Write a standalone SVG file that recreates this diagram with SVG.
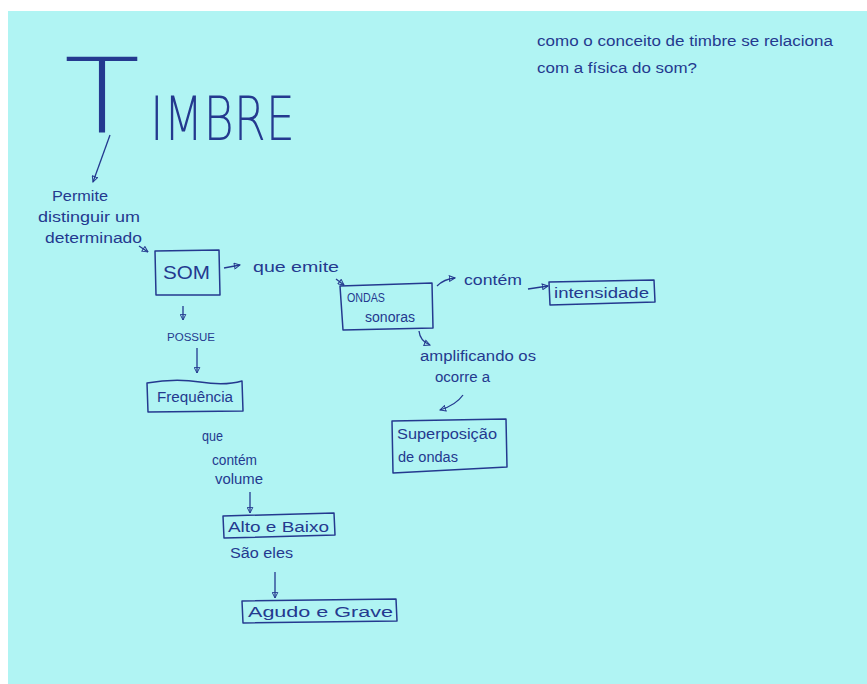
<svg xmlns="http://www.w3.org/2000/svg" width="867" height="684" viewBox="0 0 867 684">
<style>
.ink{fill:#24398f;font-family:"Liberation Sans","DejaVu Sans",sans-serif}
.t{font-size:14px}
.big{font-family:"DejaVu Sans","Liberation Sans",sans-serif;font-weight:200}
.box{fill:none;stroke:#24398f;stroke-width:1.5;stroke-linejoin:round}
.edge{fill:none;stroke:#24398f;stroke-width:1.3}
</style>
<defs>
<marker id="ah" viewBox="0 0 10 10" refX="9" refY="5" markerWidth="7" markerHeight="7" orient="auto" markerUnits="userSpaceOnUse">
<path d="M1,1 L9,5 L1,9 Z" fill="none" stroke="#24398f" stroke-width="1.4"/>
</marker>
</defs>
<rect x="0" y="0" width="867" height="684" fill="#ffffff"/>
<rect x="8" y="11" width="859" height="673" fill="#b0f4f3"/>

<g id="question">
<text class="ink t" x="537" y="46" textLength="296" lengthAdjust="spacingAndGlyphs">como o conceito de timbre se relaciona</text>
<text class="ink t" x="537" y="73" textLength="160" lengthAdjust="spacingAndGlyphs">com a física do som?</text>
</g>

<g id="timbre">
<text class="ink big" x="64" y="132" style="font-size:104px"><tspan textLength="76" lengthAdjust="spacingAndGlyphs">T</tspan><tspan x="150" y="140" style="font-size:60px" textLength="145" lengthAdjust="spacingAndGlyphs">IMBRE</tspan></text>
</g>

<g id="intro">
<text class="ink t" x="52" y="201" textLength="56" lengthAdjust="spacingAndGlyphs">Permite</text>
<text class="ink t" x="38" y="222" textLength="102" lengthAdjust="spacingAndGlyphs">distinguir um</text>
<text class="ink t" x="45" y="243" textLength="97" lengthAdjust="spacingAndGlyphs">determinado</text>
</g>

<g id="som">
<path class="box" d="M155,251 L219,250 L220,295 L156,295 Z"/>
<text class="ink" x="163" y="279" style="font-size:18px" textLength="47" lengthAdjust="spacingAndGlyphs">SOM</text>
</g>

<g id="label-que-emite">
<text class="ink t" x="253" y="272" textLength="86" lengthAdjust="spacingAndGlyphs">que emite</text>
</g>

<g id="ondas">
<path class="box" d="M340,286 L432,283 L433,328 L343,330 Z"/>
<text class="ink" x="347" y="302" style="font-size:12px" textLength="38" lengthAdjust="spacingAndGlyphs">ONDAS</text>
<text class="ink t" x="365" y="322" textLength="50" lengthAdjust="spacingAndGlyphs">sonoras</text>
</g>

<g id="label-contem">
<text class="ink t" x="464" y="285" textLength="58" lengthAdjust="spacingAndGlyphs">contém</text>
</g>

<g id="intensidade">
<path class="box" d="M549,282 L654,280 L655,302 L550,305 Z"/>
<text class="ink t" x="554" y="298" textLength="95" lengthAdjust="spacingAndGlyphs">intensidade</text>
</g>

<g id="label-possue">
<text class="ink" x="167" y="341" style="font-size:10px" textLength="48" lengthAdjust="spacingAndGlyphs">POSSUE</text>
</g>

<g id="frequencia">
<path class="box" d="M147,383 Q175,378 200,382 Q225,386 242,381 L243,411 L148,412 Z"/>
<text class="ink t" x="157" y="402" textLength="76" lengthAdjust="spacingAndGlyphs">Frequência</text>
</g>

<g id="label-amplificando">
<text class="ink t" x="420" y="361" textLength="116" lengthAdjust="spacingAndGlyphs">amplificando os</text>
<text class="ink t" x="435" y="382" textLength="55" lengthAdjust="spacingAndGlyphs">ocorre a</text>
</g>

<g id="superposicao">
<path class="box" d="M392,421 L506,419 L507,467 L393,473 Z"/>
<text class="ink t" x="397" y="439" textLength="100" lengthAdjust="spacingAndGlyphs">Superposição</text>
<text class="ink t" x="398" y="462" textLength="60" lengthAdjust="spacingAndGlyphs">de ondas</text>
</g>

<g id="label-que-contem-volume">
<text class="ink t" x="202" y="441" textLength="21" lengthAdjust="spacingAndGlyphs">que</text>
<text class="ink t" x="212" y="465" textLength="45" lengthAdjust="spacingAndGlyphs">contém</text>
<text class="ink t" x="215" y="484" textLength="48" lengthAdjust="spacingAndGlyphs">volume</text>
</g>

<g id="alto-baixo">
<path class="box" d="M223,516 L334,513 L335,535 L224,538 Z"/>
<text class="ink t" x="228" y="532" textLength="101" lengthAdjust="spacingAndGlyphs">Alto e Baixo</text>
</g>

<g id="label-sao-eles">
<text class="ink t" x="230" y="558" textLength="63" lengthAdjust="spacingAndGlyphs">São eles</text>
</g>

<g id="agudo-grave">
<path class="box" d="M242,601 L396,599 L397,621 L243,623 Z"/>
<text class="ink t" x="248" y="617" textLength="145" lengthAdjust="spacingAndGlyphs">Agudo e Grave</text>
</g>

<g id="connectors">
<path class="edge" d="M110,135 L93,182" marker-end="url(#ah)"/>
<path class="edge" d="M139,246 L148,252" marker-end="url(#ah)"/>
<path class="edge" d="M224,268 L240,265" marker-end="url(#ah)"/>
<path class="edge" d="M336,279 L344,285" marker-end="url(#ah)"/>
<path class="edge" d="M437,286 Q444,279 455,278" marker-end="url(#ah)"/>
<path class="edge" d="M528,289 L548,286" marker-end="url(#ah)"/>
<path class="edge" d="M183,306 L183,320" marker-end="url(#ah)"/>
<path class="edge" d="M197,348 L197,373" marker-end="url(#ah)"/>
<path class="edge" d="M419,331 Q420,341 430,345" marker-end="url(#ah)"/>
<path class="edge" d="M463,395 Q456,405 440,410" marker-end="url(#ah)"/>
<path class="edge" d="M250,492 L250,513" marker-end="url(#ah)"/>
<path class="edge" d="M275,572 L275,598" marker-end="url(#ah)"/>
</g>
</svg>
